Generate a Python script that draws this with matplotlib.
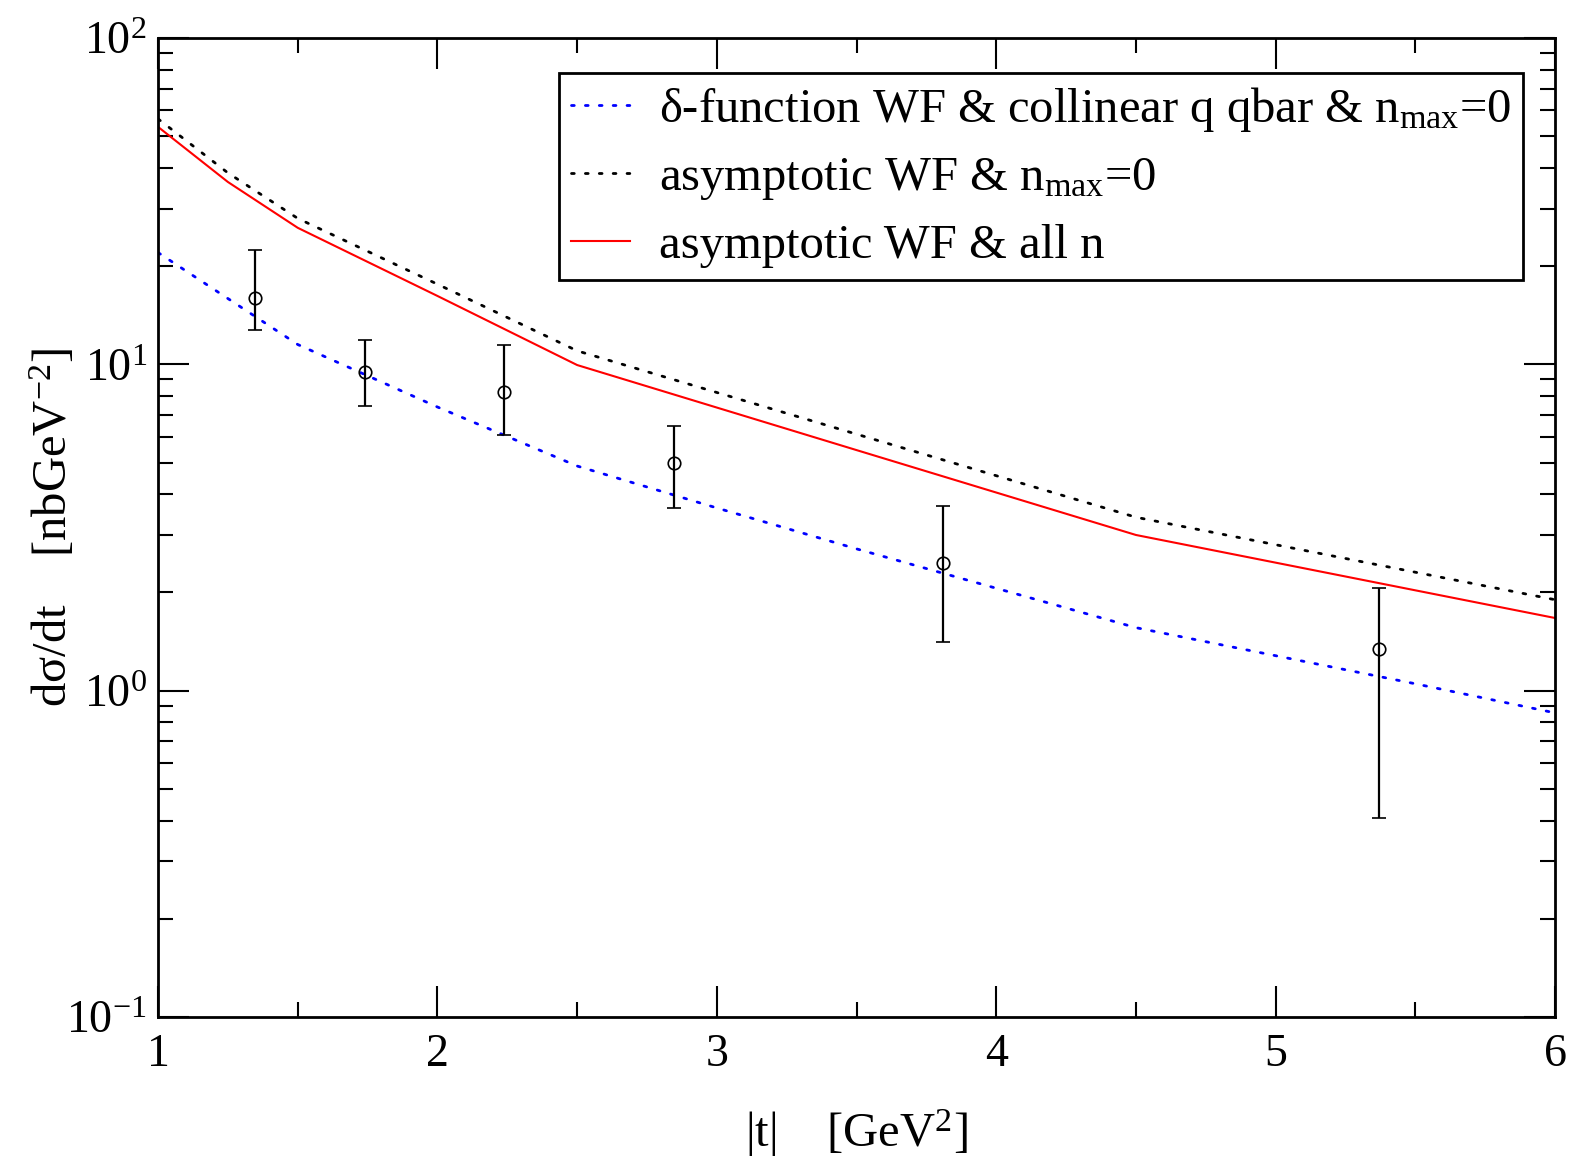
import matplotlib
matplotlib.use("Agg")
import matplotlib.pyplot as plt
from matplotlib.ticker import MultipleLocator, LogLocator, NullFormatter

plt.rcParams['font.family'] = ['Liberation Serif', 'DejaVu Serif']
plt.rcParams['mathtext.fontset'] = 'custom'
plt.rcParams['mathtext.rm'] = 'Liberation Serif'
plt.rcParams['mathtext.it'] = 'Liberation Serif:italic'
plt.rcParams['mathtext.bf'] = 'Liberation Serif:bold'

# ---- data ----
t_delta = [1.0, 1.5, 2.0, 2.5, 3.0, 3.5, 4.0, 4.5, 5.0, 5.5, 6.0]
xs_delta = [22.0, 11.5, 7.4, 4.88, 3.63, 2.72, 2.06, 1.56, 1.28, 1.05, 0.855]

t_asym0 = [1.0, 1.25, 1.5, 2.0, 2.5, 3.5, 4.5, 6.0]
xs_asym0 = [56.5, 38.6, 28.0, 17.6, 11.0, 6.11, 3.40, 1.90]

t_all = [1.0, 1.25, 1.5, 2.0, 2.5, 3.5, 4.5, 6.0]
xs_all = [53.4, 36.2, 26.2, 16.2, 9.95, 5.46, 3.0, 1.67]

t_data = [1.347, 1.741, 2.238, 2.847, 3.808, 5.37]
xs_data = [15.96, 9.47, 8.24, 4.99, 2.47, 1.34]
xs_hi = [22.4, 11.9, 11.5, 6.48, 3.68, 2.07]
xs_lo = [12.7, 7.46, 6.07, 3.62, 1.41, 0.406]

labels = [r"$\mathrm{\delta}$-function WF & collinear q qbar & n$_{\mathrm{max}}$=0",
          r"asymptotic WF & n$_{\mathrm{max}}$=0",
          r"asymptotic WF & all n"]

fig = plt.figure(figsize=(15.76, 11.65), dpi=100)
ax = fig.add_axes([0.1003, 0.127, 0.8864, 0.8404])

ax.plot(t_delta, xs_delta, color='blue', lw=2.0, linestyle=(0, (1, 4)),
        dash_capstyle='round', label=labels[0])
ax.plot(t_asym0, xs_asym0, color='black', lw=2.0, linestyle=(0, (1, 4)),
        dash_capstyle='round', label=labels[1])
ax.plot(t_all, xs_all, color='red', lw=1.5, label=labels[2])

yerr = [[v - l for v, l in zip(xs_data, xs_lo)], [h - v for v, h in zip(xs_data, xs_hi)]]
ax.errorbar(t_data, xs_data, yerr=yerr, fmt='o', mfc='none', mec='black', ms=9,
            mew=1.2, ecolor='black', elinewidth=1.6, capsize=5, capthick=1.6)

ax.set_yscale('log')
ax.set_xlim(1, 6)
ax.set_ylim(0.1, 100)

ax.xaxis.set_major_locator(MultipleLocator(1))
ax.xaxis.set_minor_locator(MultipleLocator(0.5))
ax.yaxis.set_major_locator(LogLocator(base=10, numticks=10))
ax.yaxis.set_minor_locator(LogLocator(base=10, subs=range(2, 10), numticks=10))
ax.yaxis.set_minor_formatter(NullFormatter())

ax.tick_params(which='both', direction='in', top=True, right=True, width=1.5,
               labelsize=33)
ax.tick_params(which='major', length=22)
ax.tick_params(which='minor', length=11)
ax.tick_params(axis='x', pad=12)
ax.tick_params(axis='y', pad=8)
for s in ax.spines.values():
    s.set_linewidth(2)

ax.set_xlabel(r"|t|    [GeV$^{2}$]", fontsize=35)
ax.set_ylabel(r"d$\mathrm{\sigma}$/dt    [nbGeV$^{-2}$]", fontsize=35)
ax.xaxis.set_label_coords(0.5, -0.092)
ax.yaxis.set_label_coords(-0.058, 0.5)

leg = ax.legend(loc='upper right', bbox_to_anchor=(0.977, 0.964), borderaxespad=0,
                fontsize=35, frameon=True, fancybox=False, framealpha=1,
                edgecolor='black', handlelength=1.2, handletextpad=0.6,
                labelspacing=0.45, borderpad=0.25)
leg.get_frame().set_linewidth(2)

fig.savefig('out.png', dpi=100)
